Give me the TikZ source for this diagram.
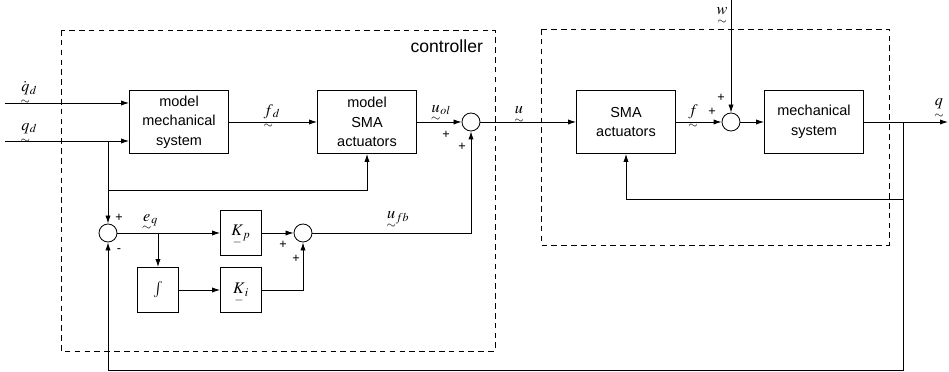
\documentclass[tikz,border=0pt]{standalone}
\usepackage{amsmath}
\usepackage{mathptmx}
\usepackage{fontspec}
\setmainfont{Liberation Sans}
\usetikzlibrary{arrows.meta}
\tikzset{block/.style={draw,minimum width=2.475cm,minimum height=1.575cm,inner sep=1pt,
        align=center,font=\fontsize{10.3}{14}\selectfont},
        gain/.style={draw,minimum width=1.025cm,minimum height=1.125cm,inner sep=0pt,
        font=\fontsize{11.5}{13}\selectfont},
        sum/.style={draw,circle,minimum size=0.45cm,inner sep=0pt},
        frame/.style={dash pattern=on 4pt off 3pt},
        sig/.style={-{Latex[length=2mm,width=1.3mm]}},
        lbl/.style={font=\fontsize{11.5}{13}\selectfont,inner sep=1pt},
        sgn/.style={font=\small,inner sep=0pt}}
% vector (tilde) and matrix (bar) marks below a symbol, kept out of the subscript's way
\newcommand{\tvec}[1]{{\smash[b]{\underset{\sim}{#1}}}}
\newcommand{\mvec}[1]{{\smash[b]{\underset{-}{#1}}}}

\begin{document}
\begin{tikzpicture}[x=0.025cm,y=-0.025cm,line width=0.6pt]
  \useasboundingbox (0,0) rectangle (949,372);
  % dashed frames
  \draw[frame] (61,30) rectangle (495,351);
  \draw[frame] (541,29) rectangle (889,245);
  \node[font=\fontsize{12.5}{14}\selectfont,anchor=east] at (488,46) {controller};

  % feedforward path
  \node[block] (mm) at (179,122) {model\\mechanical\\system};
  \node[block] (ms) at (367,122) {model\\SMA\\actuators};
  \node[sum] (sol) at (471,122) {};
  % plant
  \node[block] (sma) at (626,122) {SMA\\actuators};
  \node[sum] (sf) at (731,122) {};
  \node[block] (mech) at (814,122) {mechanical\\system};
  % PI loop
  \node[sum] (se) at (108,233) {};
  \node[gain] (kp) at (241,233) {$\mvec{K}_p$};
  \node[gain] (int) at (158,290) {$\int$};
  \node[gain] (ki) at (241,290) {$\mvec{K}_i$};
  \node[sum] (sfb) at (303,233) {};

  \coordinate (qdd) at (5,103);
  \coordinate (qd) at (5,141);
  \coordinate (qdb) at (108,141);
  \coordinate (qdh) at (108,190);
  \coordinate (wtop) at (731,0);
  \coordinate (qout) at (948,122);
  \coordinate (br) at (903,122);
  \coordinate (fbs) at (903,199);
  \coordinate (bl) at (108,370);
  \coordinate (eb) at (158,233);

  \draw[sig] (qdd) -- (qdd -| mm.west);
  \draw[sig] (qd) -- (qd -| mm.west);
  \draw[sig] (mm) -- (ms);
  \draw[sig] (ms) -- (sol);
  \draw[sig] (sol) -- (sma);
  \draw[sig] (sma) -- (sf);
  \draw[sig] (wtop) -- (sf);
  \draw[sig] (sf) -- (mech);
  \draw[sig] (mech) -- (qout);
  \draw[sig] (br) -- (fbs) -| (sma.south);
  \draw[sig] (br) |- (bl) -- (se.south);
  \draw[sig] (qdb) -- (se.north);
  \draw[sig] (qdh) -| (ms.south);
  \draw[sig] (se) -- (kp);
  \draw[sig] (eb) -- (int.north);
  \draw[sig] (int) -- (ki);
  \draw[sig] (kp) -- (sfb);
  \draw[sig] (ki) -| (sfb.south);
  \draw[sig] (sfb) -| (sol.south);

  % signal names
  \node[lbl] at (29,88) {$\dot{\tvec{q}}_d$};
  \node[lbl] at (29,128) {$\tvec{q}_d$};
  \node[lbl] at (272,111) {$\tvec{f}_d$};
  \node[lbl] at (441,110) {$\tvec{u}_{ol}$};
  \node[lbl] at (519,110) {$\tvec{u}$};
  \node[lbl] at (693,110) {$\tvec{f}$};
  \node[lbl] at (722,11) {$\tvec{w}$};
  \node[lbl] at (939,102) {$\tvec{q}$};
  \node[lbl] at (150,220) {$\tvec{e}_q$};
  \node[lbl] at (398,218) {$\tvec{u}_{fb}$};

  % signs at the summing points
  \node[sgn] at (446,135) {+};
  \node[sgn] at (462,147) {+};
  \node[sgn] at (712,112) {+};
  \node[sgn] at (721,98) {+};
  \node[sgn] at (119,218) {+};
  \node[sgn] at (119,251) {-};
  \node[sgn] at (283,245) {+};
  \node[sgn] at (296,259) {+};
\end{tikzpicture}
\end{document}
